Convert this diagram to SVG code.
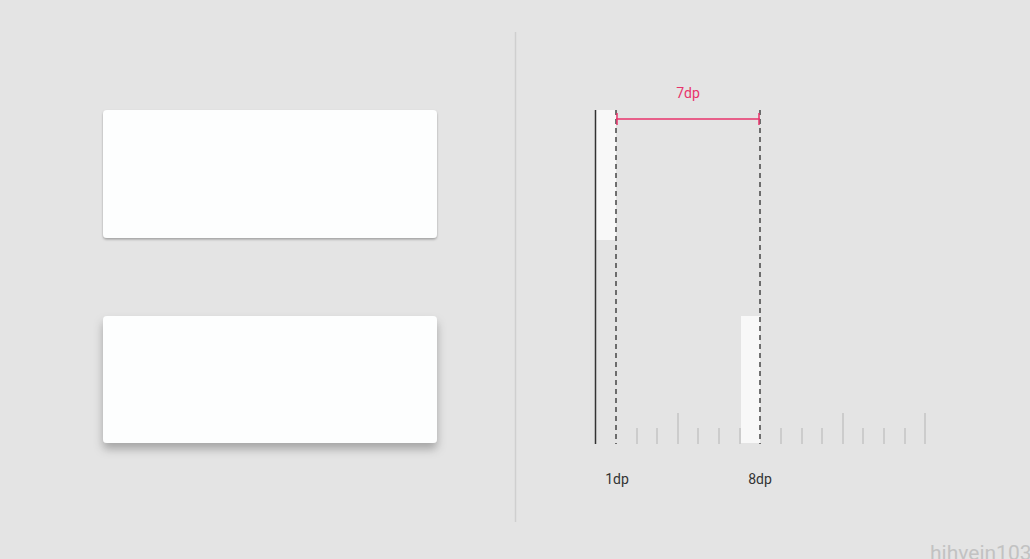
<svg xmlns="http://www.w3.org/2000/svg" width="1030" height="559" viewBox="0 0 1030 559">
<style>
.card{fill:#fdfefe}
.tick{stroke:#c4c4c4;stroke-width:1.5}
.dash{stroke:#444;stroke-width:1.5;stroke-dasharray:5,4}
.pink{stroke:#e8336b;stroke-width:1.5}
.lbl{font-family:"Roboto","Liberation Sans",sans-serif;font-size:14px;fill:#333;text-anchor:middle}
</style>
<defs>
<filter id="sh1" x="-10%" y="-20%" width="120%" height="140%">
<feDropShadow dx="0" dy="1.5" stdDeviation="1" flood-color="#000" flood-opacity="0.3"/>
</filter>
<filter id="sh8" x="-10%" y="-20%" width="120%" height="150%">
<feDropShadow dx="0" dy="6" stdDeviation="5" flood-color="#000" flood-opacity="0.28"/>
</filter>
</defs>
<rect width="1030" height="559" fill="#e4e4e4"/>
<line x1="515.5" y1="32" x2="515.5" y2="522" stroke="#cfcfcf" stroke-width="1.5"/>
<g id="card1"><rect class="card" x="103" y="110" width="334" height="128" rx="4" filter="url(#sh1)"/></g>
<g id="card2"><rect class="card" x="103" y="316" width="334" height="127" rx="4" filter="url(#sh8)"/></g>
<g id="ruler">
<rect x="596" y="110" width="20" height="130" fill="#f8f8f8"/>
<rect x="741" y="316" width="19" height="127" fill="#f8f8f8"/>
<line x1="595.5" y1="110" x2="595.5" y2="444" stroke="#333" stroke-width="1.5"/>
<g class="tick">
<line x1="637" y1="428" x2="637" y2="444"/>
<line x1="657" y1="428" x2="657" y2="444"/>
<line x1="678" y1="413" x2="678" y2="444"/>
<line x1="698" y1="428" x2="698" y2="444"/>
<line x1="719" y1="428" x2="719" y2="444"/>
<line x1="740" y1="428" x2="740" y2="444"/>
<line x1="781" y1="428" x2="781" y2="444"/>
<line x1="802" y1="428" x2="802" y2="444"/>
<line x1="822" y1="428" x2="822" y2="444"/>
<line x1="843" y1="413" x2="843" y2="444"/>
<line x1="863" y1="428" x2="863" y2="444"/>
<line x1="884" y1="428" x2="884" y2="444"/>
<line x1="905" y1="428" x2="905" y2="444"/>
<line x1="925" y1="413" x2="925" y2="444"/>
</g>
</g>
<g id="connectors">
<line class="dash" x1="616" y1="110" x2="616" y2="444"/>
<line class="dash" x1="760" y1="110" x2="760" y2="444"/>
<line class="pink" x1="616" y1="119" x2="760" y2="119"/>
<line class="pink" x1="617" y1="113" x2="617" y2="125"/>
<line class="pink" x1="759" y1="113" x2="759" y2="125"/>
</g>
<text x="688" y="98" font-family="Roboto,'Liberation Sans',sans-serif" font-size="14" fill="#e8336b" text-anchor="middle">7dp</text>
<text class="lbl" x="617" y="484">1dp</text>
<text class="lbl" x="760" y="484">8dp</text>
<text x="930" y="560" font-family="Roboto,'Liberation Sans',sans-serif" font-size="21" fill="#c2c2c2">hihvein103</text>
</svg>
